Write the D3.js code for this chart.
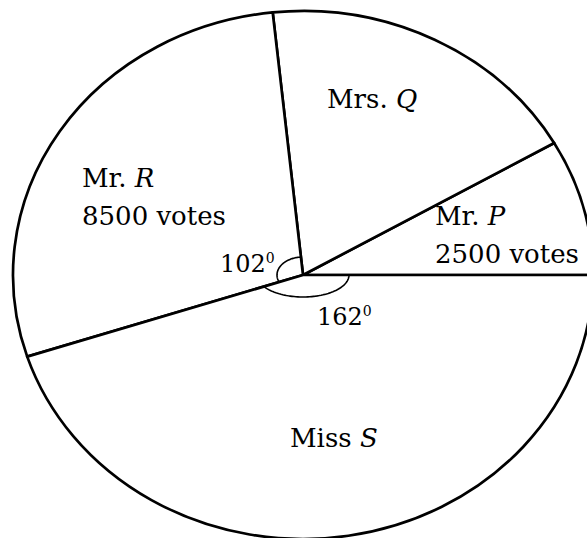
<!DOCTYPE html>
<html>
<head>
<meta charset="utf-8">
<script src="https://cdn.jsdelivr.net/npm/d3@7"></script>
<style>
  html, body { margin: 0; padding: 0; background: #fff; }
  svg { display: block; }
  text { font-family: "DejaVu Serif", "Liberation Serif", serif; fill: #000; }
</style>
</head>
<body>
<svg id="chart" width="587" height="538"></svg>
<script>
// ---- data ----
const candidates  = ["Mr.", "Mrs.", "Mr.", "Miss"];
const initials    = ["P", "Q", "R", "S"];
const votes       = [2500, 5500, 8500, 13500];
const voteLabels  = ["2500 votes", null, "8500 votes", null];
const angleLabels = [null, null, "102", "162"];

// ---- layout (positions only) ----
const W = 587, H = 538;
const cx = 303, cy = 275, rx = 290, ry = 264;
const nameAt  = [[435, 225], [327, 108], [82, 187], [290, 447]];
const votesAt = [[435, 263], null, [82, 225], null];
const degAt   = [null, null, [220, 272], [317, 325]];
// angle-marker ellipse radii (px) per slice
const markerR = {2: [26, 18], 3: [46, 22]};

const svg = d3.select("#chart");
svg.append("rect").attr("width", W).attr("height", H).attr("fill", "#fff");

// counter-clockwise from 3 o'clock
const pie = d3.pie().sort(null).value(d => d)
  .startAngle(Math.PI / 2).endAngle(Math.PI / 2 - 2 * Math.PI);
const arcs = pie(votes);

const R0 = 100;
const arc = d3.arc().innerRadius(0).outerRadius(R0);

const g = svg.append("g")
  .attr("transform", `translate(${cx},${cy}) scale(${rx / R0},${ry / R0})`);

g.selectAll("path.slice")
  .data(arcs)
  .join("path")
  .attr("class", "slice")
  .attr("d", arc)
  .attr("fill", "#fff")
  .attr("stroke", "#000")
  .attr("stroke-width", 2.7)
  .attr("stroke-linejoin", "round")
  .attr("vector-effect", "non-scaling-stroke");

// angle markers: small ellipse arcs around the vertex, from boundary to boundary
const line = d3.line();
const phiOf = (a, mx, my) => Math.atan2((-ry * Math.cos(a)) / my, (rx * Math.sin(a)) / mx);
Object.keys(markerR).forEach(k => {
  const s = arcs[+k];
  const [mx, my] = markerR[k];
  let p0 = phiOf(s.startAngle, mx, my);
  let p1 = phiOf(s.endAngle, mx, my);
  // sweep counter-clockwise on screen (decreasing screen angle)
  while (p1 > p0) p1 -= 2 * Math.PI;
  while (p0 - p1 > 2 * Math.PI) p1 += 2 * Math.PI;
  const n = 60;
  const pts = d3.range(n + 1).map(i => {
    const p = p0 + (p1 - p0) * i / n;
    return [cx + mx * Math.cos(p), cy + my * Math.sin(p)];
  });
  svg.append("path")
    .attr("d", line(pts))
    .attr("fill", "none")
    .attr("stroke", "#000")
    .attr("stroke-width", 1.6);
});

// labels
const FS = 26;
arcs.forEach((s, i) => {
  const [nx, ny] = nameAt[i];
  const t = svg.append("text").attr("x", nx).attr("y", ny).attr("font-size", FS);
  t.append("tspan").text(candidates[i] + " ");
  t.append("tspan").attr("font-style", "italic").text(initials[i]);
  if (voteLabels[i]) {
    const [vx, vy] = votesAt[i];
    svg.append("text").attr("x", vx).attr("y", vy).attr("font-size", FS).text(voteLabels[i]);
  }
  if (angleLabels[i]) {
    const [dx, dy] = degAt[i];
    const d = svg.append("text").attr("x", dx).attr("y", dy).attr("font-size", 24);
    d.append("tspan").text(angleLabels[i]);
    d.append("tspan").attr("font-size", 14).attr("dy", -9).text("0");
  }
});
</script>
</body>
</html>
